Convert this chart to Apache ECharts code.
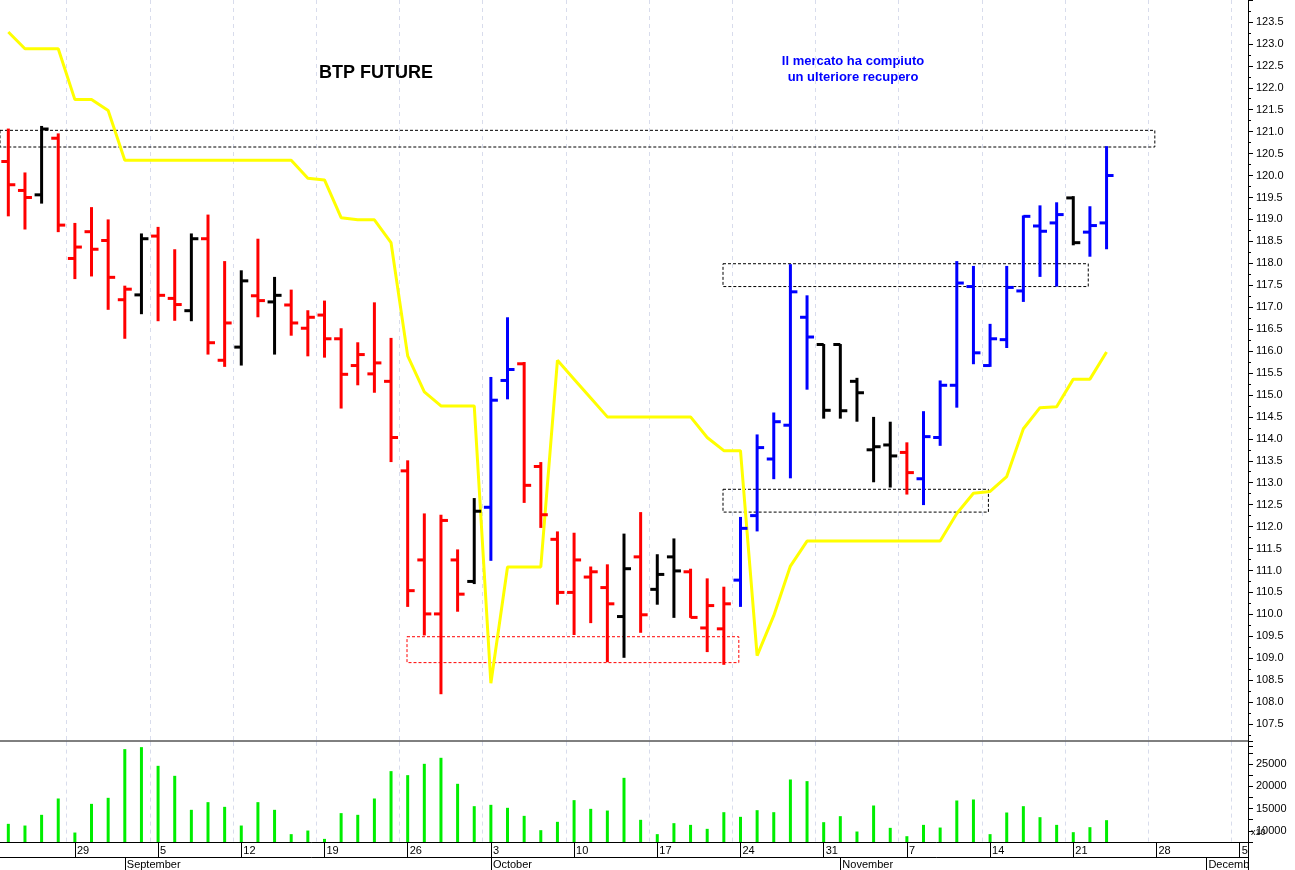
<!DOCTYPE html>
<html>
<head>
<meta charset="utf-8">
<script src="https://cdn.jsdelivr.net/npm/echarts@6/dist/echarts.min.js"></script>
<style>
  html, body { margin: 0; padding: 0; background: #fff; }
  #chart { width: 1295px; height: 870px; }
</style>
</head>
<body>
<div id="chart"></div>
<script>
// trading days from Aug 23 to Dec 5 (weekdays only)
const days = [];
for (let d = new Date(2011, 7, 23); d <= new Date(2011, 11, 5); d.setDate(d.getDate() + 1)) {
  if (d.getDay() !== 0 && d.getDay() !== 6) days.push(new Date(d));
}
const monthNames = ['January', 'February', 'March', 'April', 'May', 'June', 'July', 'August', 'September', 'October', 'November', 'December'];

const openP = [120.32,119.66,119.56,120.85,118.11,118.72,118.52,117.17,117.28,118.62,117.2,116.92,118.56,115.79,116.09,117.26,117.12,117.05,116.52,116.82,116.28,115.67,115.48,115.31,113.27,111.24,110.01,111.24,110.75,112.44,115.33,115.71,113.37,111.71,110.5,110.85,110.61,109.95,111.31,110.57,111.31,110.97,109.69,109.67,110.78,112.25,113.54,114.31,116.77,116.15,116.15,115.31,113.75,113.86,113.69,113.09,114.03,115.22,117.47,115.67,116.26,117.37,118.85,118.92,119.49,118.71,118.92];
const highP = [121.07,120.07,121.13,120.96,118.92,119.28,119.0,117.49,118.68,118.83,118.32,118.68,119.11,118.05,117.84,118.56,117.69,117.4,116.93,117.15,116.52,116.2,117.11,116.3,113.51,112.3,112.27,111.48,112.65,115.41,116.77,115.75,113.47,111.89,111.86,111.09,111.14,111.84,112.33,111.37,111.73,111.04,110.82,110.63,112.22,114.1,114.6,117.98,117.27,116.16,116.16,115.39,114.5,114.39,113.92,114.63,115.33,118.05,117.94,116.62,117.94,119.09,119.32,119.39,119.53,119.3,120.67];
const lowP = [119.07,118.77,119.36,118.71,117.64,117.7,116.94,116.28,116.84,116.68,116.69,116.68,115.92,115.64,115.67,116.77,115.92,116.35,115.88,115.85,114.69,115.22,115.05,113.47,110.17,109.52,108.18,110.06,110.69,111.22,114.9,112.54,111.97,110.22,109.53,109.8,108.91,109.01,109.58,110.22,109.92,109.92,109.14,108.85,110.17,111.89,113.08,113.1,115.12,114.46,114.46,114.39,113.01,112.89,112.73,112.49,113.84,114.71,115.7,115.64,116.07,117.12,117.69,117.47,118.41,118.15,118.32];
const closeP = [119.79,119.5,121.06,118.87,118.37,118.32,117.68,117.41,118.56,117.27,117.06,118.56,116.19,116.64,117.6,117.15,117.27,116.64,116.77,116.28,115.47,115.92,115.73,114.03,110.54,110.01,112.14,110.46,112.35,114.88,115.58,112.94,112.27,110.5,111.24,110.97,110.24,111.04,109.99,110.91,110.99,109.93,110.2,110.24,111.96,113.8,114.39,117.35,116.32,114.65,114.64,115.05,113.82,113.61,113.23,114.05,115.22,117.55,115.96,116.28,117.45,119.07,118.73,119.11,118.47,118.86,120.0];
const trend = 'rrkrrrrrkrrkrrkrkrrrrrrrrrrrkbbrrrrrrkrkkrrrbbbbbkkkkkrbbbbbbbbbkbb';

const stopLine = [123.27,122.89,122.89,122.89,121.73,121.73,121.48,120.35,120.35,120.35,120.35,120.35,120.35,120.35,120.35,120.35,120.35,120.35,119.94,119.9,119.04,118.99,118.99,118.47,115.89,115.07,114.75,114.75,114.75,108.43,111.08,111.08,111.08,115.79,115.36,114.93,114.5,114.5,114.5,114.5,114.5,114.5,114.03,113.73,113.73,109.06,109.97,111.1,111.67,111.67,111.67,111.67,111.67,111.67,111.67,111.67,111.67,112.3,112.76,112.8,113.14,114.23,114.71,114.73,115.36,115.36,115.98];

const volume = [11570,11190,13590,17250,9620,16050,17400,28310,28760,24570,22330,14710,16430,15380,11190,16430,14710,9260,10070,8200,13970,13590,17250,23380,22480,25020,26370,20540,15530,15830,15160,13360,10150,12020,16880,14930,14550,21880,12470,9260,11720,11340,10450,14180,13140,14630,14180,21510,21140,11940,13290,9850,15680,10670,8800,11340,10740,16800,17030,9260,14110,15530,13060,11340,9700,10820,12390];

// zones: [fromBar, toBar, top, bottom, colour]
const zones = [
  [-0.5, 68.9, 121.03, 120.65, '#000'],
  [42.95, 64.9, 117.99, 117.47, '#000'],
  [42.95, 58.9, 112.85, 112.33, '#000'],
  [23.96, 43.9, 109.49, 108.9, '#f00']
];

const colorMap = { r: '#ff0000', k: '#000000', b: '#0000ff' };
const isMonday = (i) => days[i].getDay() === 1;
const isMonthStart = (i) => i > 0 && days[i].getMonth() !== days[i - 1].getMonth();

const ohlc = openP.map((o, i) => [i, o, highP[i], lowP[i], closeP[i]]);

const chart = echarts.init(document.getElementById('chart'));
const font = 'Liberation Sans, Arial, sans-serif';

chart.setOption({
  animation: false,
  backgroundColor: '#fff',
  grid: [
    { left: 0, right: 47, top: -4, height: 750 },
    { left: 0, right: 47, top: 741.6, height: 100.4 }
  ],
  xAxis: [
    {
      type: 'category', gridIndex: 0, position: 'bottom', data: days.map((d) => d.getDate()),
      axisLine: { show: false }, axisTick: { show: false }, axisLabel: { show: false },
      splitLine: { show: true, interval: (i) => isMonday(i), lineStyle: { color: '#d8dcec', type: [4, 4] } }
    },
    {
      type: 'category', gridIndex: 1, position: 'bottom', data: days.map((d) => d.getDate()),
      axisLine: { lineStyle: { color: '#000' } },
      axisTick: { show: true, interval: (i) => isMonday(i), alignWithLabel: true, length: 15, lineStyle: { color: '#000' } },
      axisLabel: { interval: (i) => isMonday(i), align: 'left', padding: [0, 0, 0, 2], margin: 3, color: '#000', fontSize: 11, fontFamily: font },
      splitLine: { show: true, interval: (i) => isMonday(i), lineStyle: { color: '#d8dcec', type: [4, 4] } }
    },
    {
      type: 'category', gridIndex: 1, position: 'bottom', data: days.map((d) => monthNames[d.getMonth()]), offset: 15,
      axisLine: { lineStyle: { color: '#000' } },
      axisTick: { show: true, interval: (i) => isMonthStart(i), alignWithLabel: true, length: 14, lineStyle: { color: '#000' } },
      axisLabel: { interval: (i) => isMonthStart(i), align: 'left', padding: [0, 0, 0, 2], margin: 2, color: '#000', fontSize: 11, fontFamily: font }
    },
    { type: 'value', gridIndex: 0, position: 'top', min: -0.5, max: 74.5, show: false }
  ],
  yAxis: [
    {
      type: 'value', gridIndex: 0, position: 'right', min: 107, max: 124, interval: 0.5,
      axisLine: { show: true, onZero: false, lineStyle: { color: '#000' } },
      axisTick: { show: true, length: 5, lineStyle: { color: '#000' } },
      minorTick: { show: true, splitNumber: 2, length: 3, lineStyle: { color: '#000' } },
      splitLine: { show: false },
      axisLabel: {
        color: '#000', fontSize: 11, fontFamily: font, margin: 8,
        formatter: (v) => (v <= 107.01 || v >= 123.99 ? '' : v.toFixed(1))
      }
    },
    {
      type: 'value', gridIndex: 1, position: 'right', min: 7500, max: 30000, interval: 2500,
      axisLine: { show: true, onZero: false, lineStyle: { color: '#000' } },
      axisTick: { show: true, length: 5, lineStyle: { color: '#000' } },
      splitLine: { show: false },
      axisLabel: {
        color: '#000', fontSize: 11, fontFamily: font, margin: 8,
        formatter: (v) => (v % 5000 === 0 && v >= 10000 && v <= 25000 ? String(v) : '')
      }
    }
  ],
  graphic: [
    { type: 'rect', shape: { x: 1249, y: 742, width: 46, height: 99 }, style: { fill: '#fff' }, z: -1 },
    { type: 'line', shape: { x1: 0, y1: 741, x2: 1248, y2: 741 }, style: { stroke: '#000', lineWidth: 1 }, z: 10 },
    { type: 'text', x: 376, y: 64, style: { text: 'BTP FUTURE', fill: '#000', font: 'bold 18px ' + font, align: 'center' } },
    { type: 'text', x: 853, y: 53, style: { text: 'Il mercato ha compiuto\nun ulteriore recupero', fill: '#0000ff', font: 'bold 13px ' + font, align: 'center', lineHeight: 16 } },
    { type: 'text', x: 1251, y: 828, style: { text: 'x10', fill: '#000', font: '9px ' + font } },
    { type: 'rect', shape: { x: 1249, y: 858, width: 46, height: 12 }, style: { fill: '#fff' }, z: 100 },
    { type: 'line', shape: { x1: 1248.5, y1: 842, x2: 1248.5, y2: 870 }, style: { stroke: '#000', lineWidth: 1 }, z: 100 }
  ],
  series: [
    {
      type: 'line', xAxisIndex: 0, yAxisIndex: 0, data: stopLine, symbol: 'none',
      lineStyle: { color: '#ffff00', width: 3 }, z: 1
    },
    {
      type: 'custom', xAxisIndex: 0, yAxisIndex: 0, data: ohlc, z: 3,
      renderItem: (params, api) => {
        const i = api.value(0);
        const x = api.coord([i, 0])[0];
        const yo = api.coord([i, api.value(1)])[1];
        const yh = api.coord([i, api.value(2)])[1];
        const yl = api.coord([i, api.value(3)])[1];
        const yc = api.coord([i, api.value(4)])[1];
        const st = { stroke: colorMap[trend[i]], lineWidth: 3 };
        return {
          type: 'group',
          children: [
            { type: 'line', shape: { x1: x, y1: yh, x2: x, y2: yl }, style: st },
            { type: 'line', shape: { x1: x - 7, y1: yo, x2: x, y2: yo }, style: st },
            { type: 'line', shape: { x1: x, y1: yc, x2: x + 7, y2: yc }, style: st }
          ]
        };
      }
    },
    {
      type: 'line', xAxisIndex: 3, yAxisIndex: 0, data: [], z: 2,
      markArea: {
        silent: true,
        data: zones.map((z) => [
          { coord: [z[0], z[2]], itemStyle: { color: 'rgba(0,0,0,0)', borderColor: z[4], borderWidth: 1, borderType: [3, 2] } },
          { coord: [z[1], z[3]] }
        ])
      }
    },
    {
      type: 'bar', xAxisIndex: 1, yAxisIndex: 1, data: volume, barWidth: 3,
      itemStyle: { color: '#00ee00' }
    }
  ]
});
</script>
</body>
</html>
